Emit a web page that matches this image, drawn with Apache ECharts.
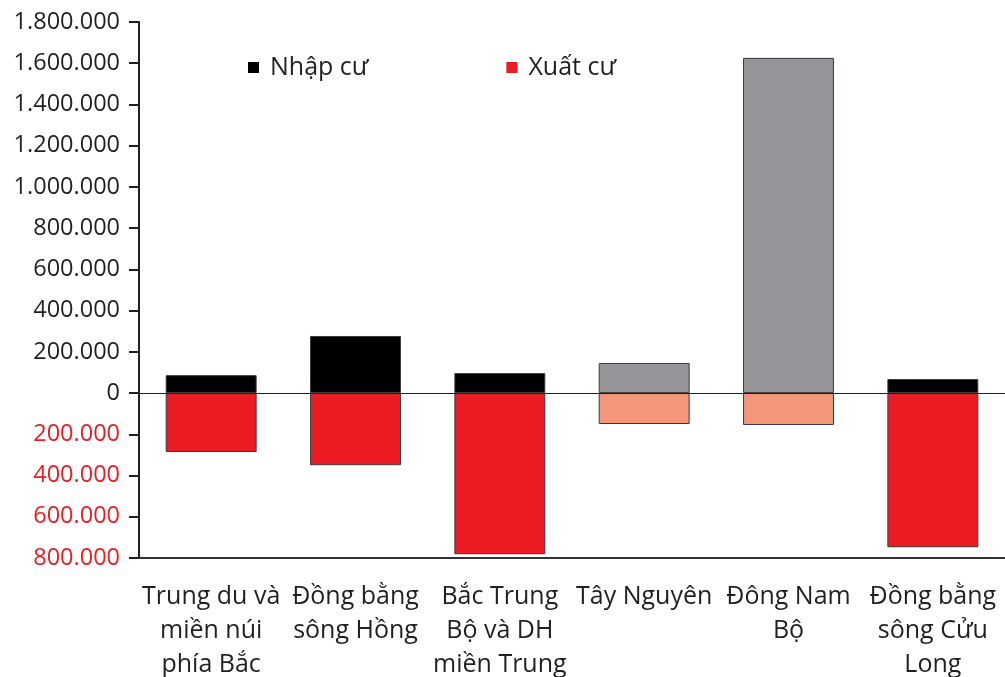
<!DOCTYPE html>
<html>
<head>
<meta charset="utf-8">
<script src="https://cdn.jsdelivr.net/npm/echarts@6/dist/echarts.min.js"></script>
<style>html,body{margin:0;padding:0;background:#fff;overflow:hidden}#c{width:1005px;height:677px}</style>
</head>
<body>
<div id="c"></div>
<script>
const categories = ["Trung du và\nmiền núi\nphía Bắc", "Đồng bằng\nsông Hồng", "Bắc Trung\nBộ và DH\nmiền Trung", "Tây Nguyên", "Đông Nam\nBộ", "Đồng bằng\nsông Cửu\nLong"];
const seriesNames = ["Nhập cư", "Xuất cư"];
const immigration = [87000, 277000, 97000, 146000, 1626000, 68000];
const emigration = [-286000, -350000, -782000, -150000, -155000, -748000];
const yMin = -800000, yMax = 1800000, yStep = 200000;

const mutedIdx = [3, 4];
const FONT = "Open Sans";
function fmt(v) {
  const a = Math.abs(v);
  return a.toString().replace(/\B(?=(\d{3})+(?!\d))/g, ".");
}
const chart = echarts.init(document.getElementById('c'), null, {renderer: 'canvas'});
chart.setOption({
  animation: false,
  backgroundColor: '#fff',
  textStyle: {fontFamily: FONT},
  grid: {left: 139, right: 0, top: 22, bottom: 119, containLabel: false, outerBoundsMode: 'none'},
  legend: {
    left: 243, top: 50, itemWidth: 11, itemHeight: 11, itemGap: 138,
    icon: 'rect',
    textStyle: {fontFamily: FONT, fontSize: 25, lineHeight: 24, color: '#231f20', padding: [0, 0, 0, 6]},
    data: [
      {name: seriesNames[0], itemStyle: {color: '#000', borderWidth: 0}},
      {name: seriesNames[1], itemStyle: {color: '#ed1c24', borderWidth: 0}}
    ]
  },
  xAxis: {
    type: 'category', data: categories,
    axisLine: {onZero: false, lineStyle: {color: '#333', width: 2}},
    axisTick: {show: false},
    axisLabel: {fontFamily: FONT, fontSize: 25, color: '#231f20', lineHeight: 34, margin: 22, interval: 0}
  },
  yAxis: {
    type: 'value', min: yMin, max: yMax, interval: yStep,
    splitLine: {show: false},
    axisLine: {show: true, lineStyle: {color: '#231f20', width: 2}},
    axisTick: {show: true, length: 10, lineStyle: {color: '#231f20', width: 2}},
    axisLabel: {
      fontFamily: FONT, fontSize: 23.5, margin: 19, padding: [4, 0, 0, 0],
      formatter: v => fmt(v),
      color: v => (v < 0 ? '#ed1c24' : '#231f20')
    }
  },
  series: [
    {
      name: seriesNames[0], type: 'bar', stack: 'total', barWidth: '63%',
      itemStyle: {color: '#000', borderColor: '#3a3a3a', borderWidth: 1},
      data: immigration.map((v, i) => mutedIdx.includes(i) ? {value: v, itemStyle: {color: '#939598'}} : v),
      markLine: {
        silent: true, symbol: 'none', label: {show: false},
        lineStyle: {color: '#231f20', width: 1, type: 'solid'},
        data: [{yAxis: 0}]
      }
    },
    {
      name: seriesNames[1], type: 'bar', stack: 'total', barWidth: '63%',
      itemStyle: {color: '#ed1c24', borderColor: '#3a3a3a', borderWidth: 1},
      data: emigration.map((v, i) => mutedIdx.includes(i) ? {value: v, itemStyle: {color: '#f4967a'}} : v)
    }
  ]
});
</script>
</body>
</html>
